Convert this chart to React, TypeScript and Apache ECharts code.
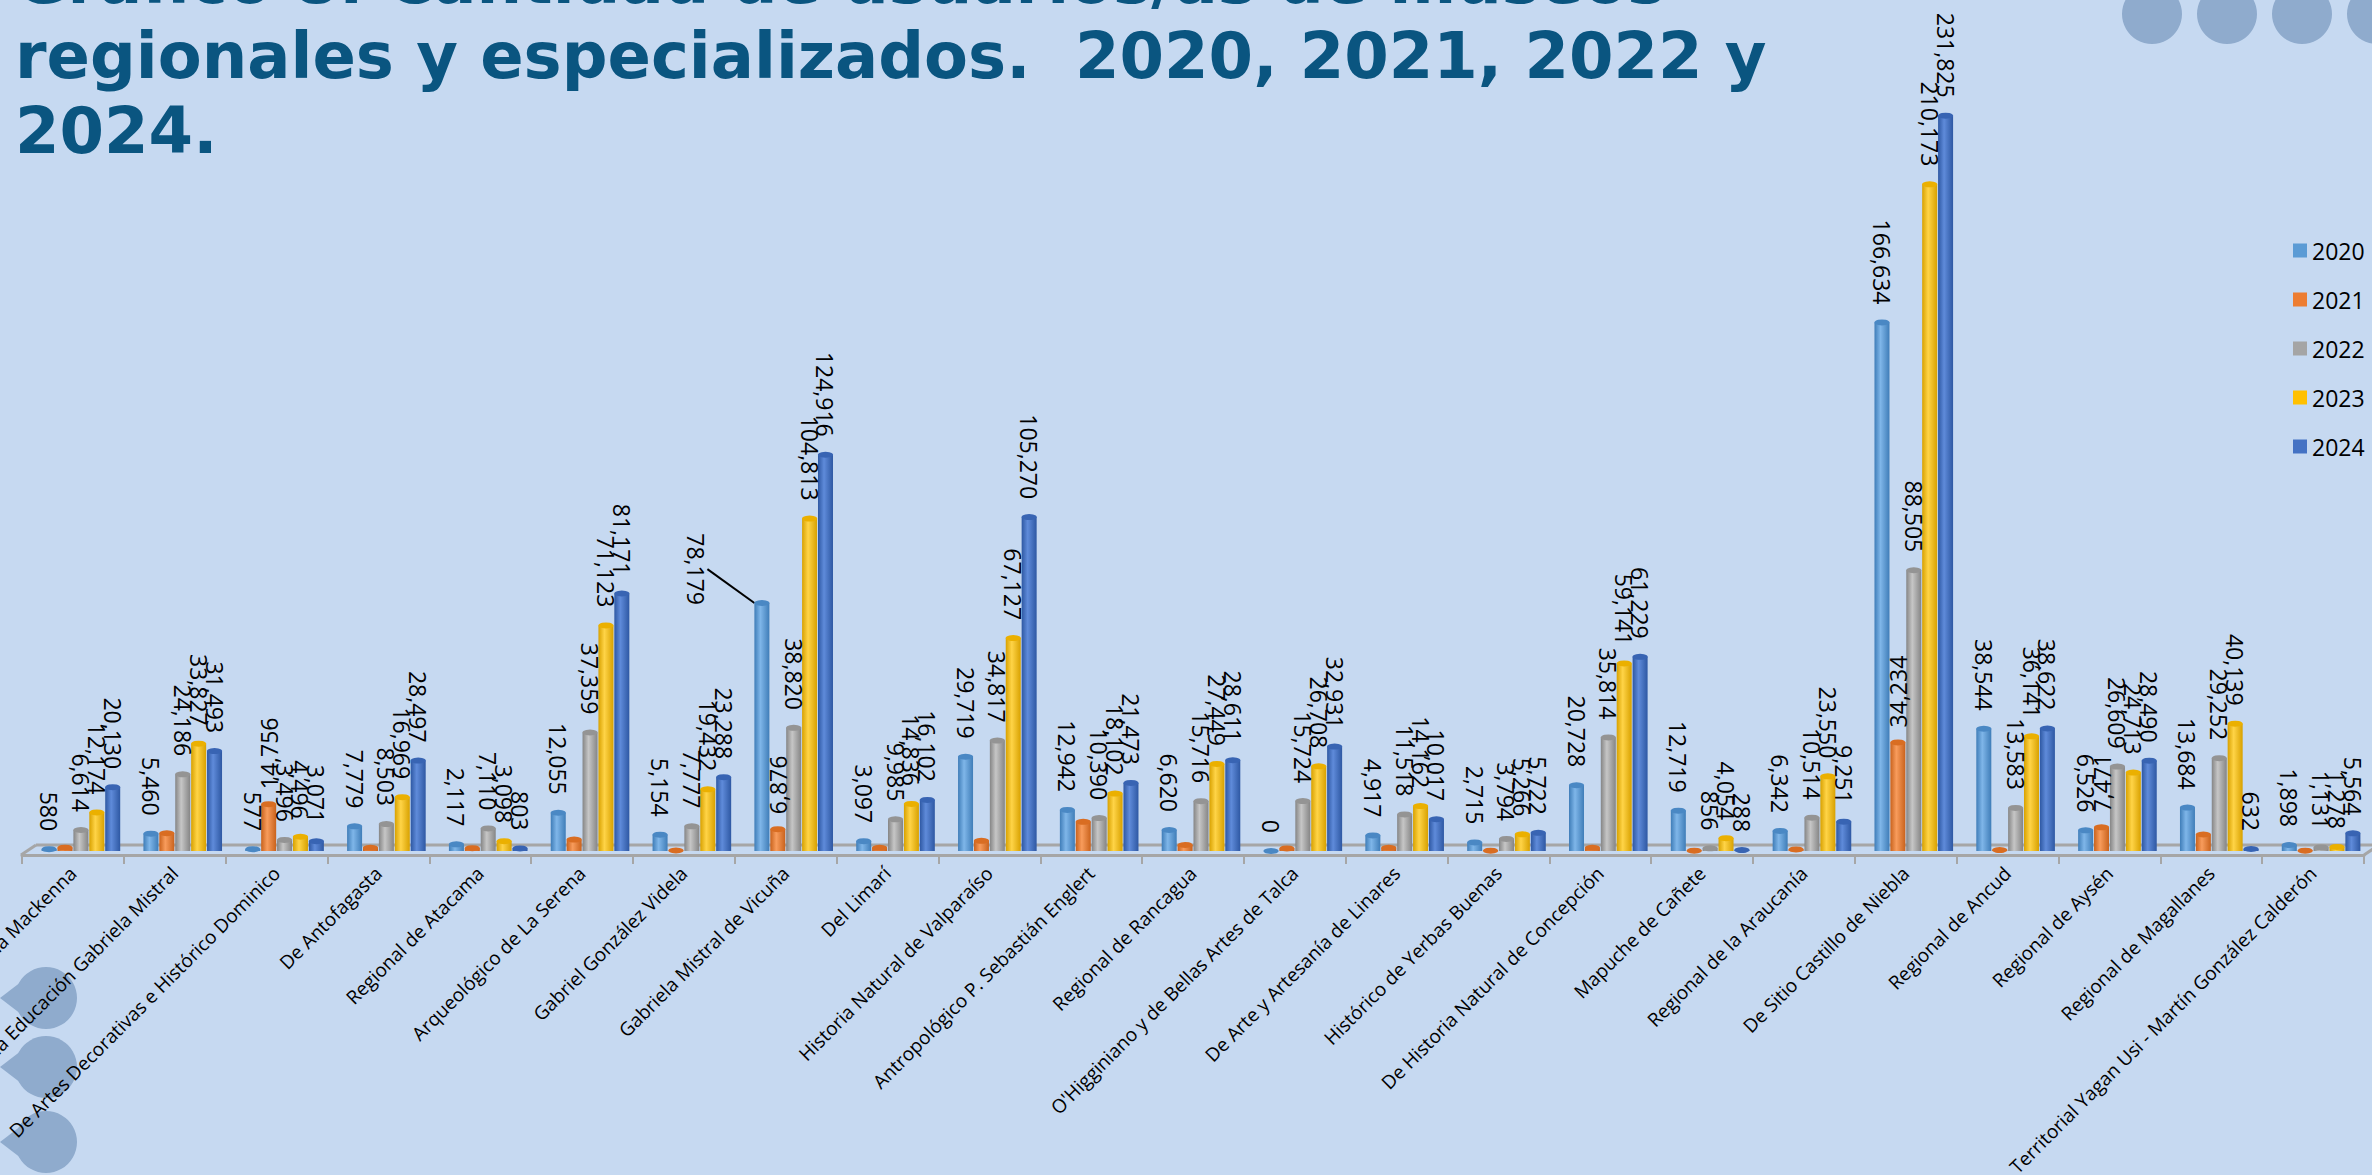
import React, { useEffect, useRef } from "react";
import * as echarts from "echarts";

const categories = [
  "Benjamín Vicuña Mackenna",
  "De la Educación Gabriela Mistral",
  "De Artes Decorativas e Histórico Dominico",
  "De Antofagasta",
  "Regional de Atacama",
  "Arqueológico de La Serena",
  "Gabriel González Videla",
  "Gabriela Mistral de Vicuña",
  "Del Limarí",
  "Historia Natural de Valparaíso",
  "Antropológico P. Sebastián Englert",
  "Regional de Rancagua",
  "O'Higginiano y de Bellas Artes de Talca",
  "De Arte y Artesanía de Linares",
  "Histórico de Yerbas Buenas",
  "De Historia Natural de Concepción",
  "Mapuche de Cañete",
  "Regional de la Araucanía",
  "De Sitio Castillo de Niebla",
  "Regional de Ancud",
  "Regional de Aysén",
  "Regional de Magallanes",
  "Territorial Yagan Usi - Martín González Calderón",
];

const years = ["2020", "2021", "2022", "2023", "2024"];

const v2020 = [580, 5460, 577, 7779, 2117, 12055, 5154, 78179, 3097, 29719, 12942, 6620, 0, 4917, 2715, 20728, 12719, 6342, 166634, 38544, 6526, 13684, 1898];
const v2021 = [1050, 5600, 14756, 1000, 900, 3600, 150, 6876, 1000, 3200, 9200, 1900, 800, 1000, 100, 1000, 100, 500, 34234, 300, 7471, 5200, 100];
const v2022 = [6614, 24186, 3496, 8503, 7110, 37359, 7777, 38820, 9985, 34817, 10390, 15716, 15724, 11518, 3794, 35814, 856, 10514, 88505, 13583, 26609, 29252, 1131];
const v2023 = [12174, 33827, 4496, 16969, 3098, 71123, 19432, 104813, 14836, 67127, 18102, 27449, 26708, 14162, 5266, 59141, 4054, 23550, 210173, 36141, 24713, 40139, 1278];
const v2024 = [20130, 31493, 3071, 28497, 803, 81171, 23288, 124916, 16102, 105270, 21473, 28611, 32931, 10017, 5722, 61229, 288, 9251, 231825, 38622, 28490, 632, 5564];

// 2021 values whose data label is visible in the reference
const labeled2021 = [2, 7, 18, 20];
// 2020 value whose label was moved aside with a leader line
const movedLabel2020 = 7;

const titleLines = [
  "Gráfico 8: Cantidad de usuarios/as de museos",
  "regionales y especializados.  2020, 2021, 2022 y",
  "2024.",
];

const palette = [
  { base: "#5b9bd5", dark: "#3f7db8", light: "#7fb6e9", cap: "#4a88c4" },
  { base: "#ed7d31", dark: "#c9621c", light: "#f89c5c", cap: "#d96d22" },
  { base: "#a5a5a5", dark: "#858585", light: "#c6c6c6", cap: "#949494" },
  { base: "#ffc000", dark: "#d8a100", light: "#ffd447", cap: "#ebb000" },
  { base: "#4472c4", dark: "#2e58a3", light: "#5f8bda", cap: "#3864b3" },
];

const fmt = (p: any) => Number(p.value).toLocaleString("en-US");

const BAR_W = 15;
const BAR_GAP = "6%";

function buildOption() {
  const values = [v2020, v2021, v2022, v2023, v2024];
  const series: any[] = [];
  values.forEach((vals, i) => {
    const pal = palette[i];
    const is2021 = i === 1;
    const data = vals.map((v, j) => {
      if (is2021) {
        return labeled2021.includes(j) ? { value: v, label: { show: true } } : v;
      }
      if (i === 0 && j === movedLabel2020) {
        return {
          value: v,
          labelLine: { show: true, lineStyle: { color: "#000", width: 2 } },
        };
      }
      return v;
    });
    series.push({
      type: "bar",
      name: years[i],
      xAxisIndex: 0,
      yAxisIndex: 0,
      barWidth: BAR_W,
      barGap: BAR_GAP,
      data,
      z: 2,
      itemStyle: {
        color: {
          type: "linear",
          x: 0,
          y: 0,
          x2: 1,
          y2: 0,
          colorStops: [
            { offset: 0, color: pal.dark },
            { offset: 0.4, color: pal.light },
            { offset: 1, color: pal.dark },
          ],
        },
      },
      label: {
        show: !is2021,
        position: "top",
        distance: is2021 ? 15 : 18,
        rotate: is2021 ? 90 : -90,
        align: is2021 ? "left" : "right",
        verticalAlign: "middle",
        fontSize: 23,
        fontFamily: "Open Sans",
        color: "#000",
        formatter: fmt,
      },
      labelLayout:
        i === 0
          ? (params: any) =>
              params.dataIndex === movedLabel2020
                ? {
                    x: params.labelRect.x + params.labelRect.width / 2 - 66,
                    y: params.labelRect.y + params.labelRect.height + 20,
                    rotate: -90,
                    align: "right",
                    verticalAlign: "middle",
                  }
                : {}
          : undefined,
    });
  });
  values.forEach((vals, i) => {
    series.push({
      type: "pictorialBar",
      name: "cap" + years[i],
      xAxisIndex: 0,
      yAxisIndex: 0,
      barWidth: BAR_W,
      barGap: BAR_GAP,
      symbol: "circle",
      symbolSize: [BAR_W, 6],
      symbolPosition: "end",
      symbolOffset: [0, "-50%"],
      data: vals,
      z: 3,
      silent: true,
      itemStyle: { color: palette[i].cap },
      label: { show: false },
    });
  });

  const graphic: any[] = [];
  // decorative circles
  [2152, 2227, 2302, 2377].forEach((cx) =>
    graphic.push({ type: "circle", z: -1, shape: { cx, cy: 14, r: 30 }, style: { fill: "#8fabcd" } })
  );
  [998, 1067, 1142].forEach((cy) => {
    graphic.push({ type: "circle", z: -1, shape: { cx: 46, cy, r: 31 }, style: { fill: "#8fabcd" } });
    graphic.push({
      type: "polygon",
      z: -1,
      shape: { points: [[0, cy], [34, cy - 26], [34, cy + 26]] },
      style: { fill: "#8fabcd" },
    });
  });
  // floor of the 3D plot
  graphic.push({ type: "line", z: 0, shape: { x1: 36, y1: 845, x2: 2380, y2: 845 }, style: { stroke: "#a6a6a6", lineWidth: 3 } });
  graphic.push({ type: "line", z: 0, shape: { x1: 21, y1: 855, x2: 36, y2: 845 }, style: { stroke: "#a6a6a6", lineWidth: 3 } });
  graphic.push({ type: "line", z: 0, shape: { x1: 2364, y1: 855, x2: 2379, y2: 845 }, style: { stroke: "#a6a6a6", lineWidth: 3 } });
  // title
  const titleY = [-19, 56, 131];
  titleLines.forEach((t, k) =>
    graphic.push({
      type: "text",
      z: 100,
      x: 15,
      y: titleY[k],
      style: {
        text: t,
        fontSize: 64,
        fontWeight: "bold",
        fontFamily: "DejaVu Sans",
        fill: "#0a5580",
        align: "left",
        verticalAlign: "middle",
      },
    })
  );

  return {
    animation: false,
    backgroundColor: "#c6d9f1",
    grid: [
      { left: 30, right: 0, top: 58, bottom: 324, containLabel: false, outerBoundsMode: "none" },
      { left: 22, right: 8, top: 58, bottom: 320, containLabel: false, outerBoundsMode: "none" },
    ],
    xAxis: [
      { type: "category", gridIndex: 0, data: categories, show: false },
      {
        type: "category",
        gridIndex: 1,
        data: categories,
        axisLine: { show: true, lineStyle: { color: "#a6a6a6", width: 3 } },
        axisTick: { show: true, length: 9, lineStyle: { color: "#a6a6a6", width: 2 } },
        axisLabel: {
          interval: 0,
          rotate: 45,
          align: "right",
          verticalAlign: "middle",
          margin: 15,
          fontSize: 19,
          fontFamily: "Open Sans",
          color: "#000",
        },
      },
    ],
    yAxis: [
      { type: "value", gridIndex: 0, min: 0, max: 250000, show: false },
      { type: "value", gridIndex: 1, min: 0, max: 250000, show: false },
    ],
    legend: {
      orient: "vertical",
      left: 2293,
      top: 239,
      padding: 0,
      itemWidth: 14,
      itemHeight: 14,
      itemGap: 26,
      icon: "rect",
      textStyle: { fontSize: 23, fontFamily: "Open Sans", color: "#000" },
      data: years.map((y, i) => ({ name: y, itemStyle: { color: palette[i].base } })),
    },
    graphic,
    series,
  };
}

export default function App() {
  const ref = useRef<HTMLDivElement>(null);
  useEffect(() => {
    if (!ref.current) return;
    const chart = echarts.init(ref.current, null, { renderer: "svg" });
    chart.setOption(buildOption() as any);
    return () => chart.dispose();
  }, []);
  return (
    <div
      ref={ref}
      style={{ position: "fixed", left: 0, top: 0, width: 2372, height: 1175 }}
    />
  );
}
